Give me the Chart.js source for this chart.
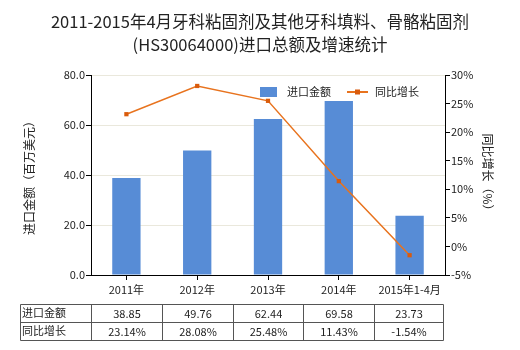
<!DOCTYPE html>
<html><head><meta charset="utf-8">
<script src="https://cdn.jsdelivr.net/npm/chart.js@4"></script>
<style>html,body{margin:0;padding:0;background:#fff}#wrap{width:520px;height:350px}</style>
</head><body><div id="wrap"><canvas id="c" width="520" height="350"></canvas></div>
<script>
const categories = ['2011年','2012年','2013年','2014年','2015年1-4月'];
const importValues = [38.85, 49.76, 62.44, 69.58, 23.73];
const growthValues = [23.14, 28.08, 25.48, 11.43, -1.54];
const importLabels = ['38.85','49.76','62.44','69.58','23.73'];
const growthLabels = ['23.14%','28.08%','25.48%','11.43%','-1.54%'];
const titleLines = ['2011-2015年4月牙科粘固剂及其他牙科填料、骨骼粘固剂','(HS30064000)进口总额及增速统计'];
const seriesNames = ['进口金额','同比增长'];
const rowNames = ['进口金额','同比增长'];

const FONT = '"Noto Sans CJK SC", "Noto Sans", sans-serif';
const BLUE = '#578cd6';
const ORANGE = '#e8731e';
const MARK = '#d95b0c';

const extras = {
  id: 'extras',
  afterDraw(chart) {
    const ctx = chart.ctx;
    const x = chart.scales.x;
    ctx.save();
    // title
    ctx.fillStyle = '#222';
    ctx.font = '16.5px ' + FONT;
    ctx.textAlign = 'center';
    ctx.textBaseline = 'middle';
    ctx.fillText(titleLines[0], 260, 22);
    ctx.fillText(titleLines[1], 260, 45);
    // legend
    ctx.fillStyle = BLUE;
    ctx.fillRect(260, 87, 17, 10);
    ctx.fillStyle = '#222';
    ctx.font = '11px ' + FONT;
    ctx.textAlign = 'left';
    ctx.fillText(seriesNames[0], 287, 92);
    ctx.strokeStyle = ORANGE; ctx.lineWidth = 2;
    ctx.beginPath(); ctx.moveTo(347, 92); ctx.lineTo(368, 92); ctx.stroke();
    ctx.fillStyle = MARK; ctx.fillRect(355, 89.5, 5, 5);
    ctx.fillStyle = '#222';
    ctx.fillText(seriesNames[1], 375, 92);
    // table
    const left = 20.5;
    const n = categories.length;
    const step = x.getPixelForValue(1) - x.getPixelForValue(0);
    const bounds = [left];
    for (let i = 0; i < n; i++) bounds.push(Math.round(x.getPixelForValue(i) - step/2) + 0.5);
    bounds.push(Math.round(x.getPixelForValue(n-1) + step/2) - 1.5);
    const rows = [304.5, 322.5, 340.5];
    ctx.strokeStyle = '#555'; ctx.lineWidth = 1;
    ctx.beginPath();
    rows.forEach(r => { ctx.moveTo(left, r); ctx.lineTo(bounds[bounds.length-1], r); });
    bounds.forEach(b => { ctx.moveTo(b, rows[0]); ctx.lineTo(b, rows[2]); });
    ctx.stroke();
    ctx.fillStyle = '#222';
    ctx.font = '11px ' + FONT;
    ctx.textAlign = 'left';
    ctx.fillText(rowNames[0], 22, 313);
    ctx.fillText(rowNames[1], 22, 331);
    ctx.textAlign = 'center';
    for (let i = 0; i < n; i++) {
      const cx = (bounds[i+1] + bounds[i+2]) / 2;
      ctx.fillText(importLabels[i], cx, 314);
      ctx.fillText(growthLabels[i], cx, 332);
    }
    ctx.restore();
  }
};

new Chart(document.getElementById('c'), {
  type: 'bar',
  data: {
    labels: categories,
    datasets: [
      { type: 'line', label: seriesNames[1], data: growthValues, yAxisID: 'y1',
        borderColor: ORANGE, borderWidth: 1.5, backgroundColor: MARK,
        pointStyle: 'rect', pointRadius: 3, pointBorderWidth: 0, pointBackgroundColor: MARK,
        tension: 0, order: 0 },
      { type: 'bar', label: seriesNames[0], data: importValues, yAxisID: 'y',
        backgroundColor: BLUE, barPercentage: 0.4, categoryPercentage: 1, order: 1 }
    ]
  },
  options: {
    responsive: false, animation: false, devicePixelRatio: 1,
    layout: { padding: { left: 22, right: 25, top: 75, bottom: 50 } },
    plugins: { legend: { display: false }, title: { display: false }, tooltip: { enabled: false } },
    scales: {
      x: {
        afterFit(s) { s.height = 25; },
        grid: { offset: false, drawOnChartArea: false, color: '#000', tickLength: 5 },
        border: { color: '#000' },
        ticks: { color: '#222', font: { size: 11, family: FONT }, padding: 3, maxRotation: 0 }
      },
      y: {
        position: 'left', min: 0, max: 80,
        afterFit(s) { s.width = 69; },
        grid: { color: 'rgba(225,222,205,0.7)', tickColor: '#000', tickLength: 5 },
        border: { color: '#000' },
        ticks: { stepSize: 20, color: '#222', font: { size: 11, family: FONT }, padding: 1,
                 callback: v => v.toFixed(1) },
        title: { display: true, text: '进口金额（百万美元）', color: '#222', font: { size: 12, family: FONT }, padding: 0 }
      },
      y1: {
        position: 'right', min: -5, max: 30,
        afterFit(s) { s.width = 50; },
        grid: { drawOnChartArea: false, color: '#000', tickLength: 5 },
        border: { color: '#000' },
        ticks: { stepSize: 5, color: '#222', font: { size: 11, family: FONT }, padding: 1,
                 callback: v => v + '%' },
        title: { display: true, text: '同比增长（%）', color: '#222', font: { size: 12, family: FONT }, padding: 0 }
      }
    }
  },
  plugins: [extras]
});
</script></body></html>
